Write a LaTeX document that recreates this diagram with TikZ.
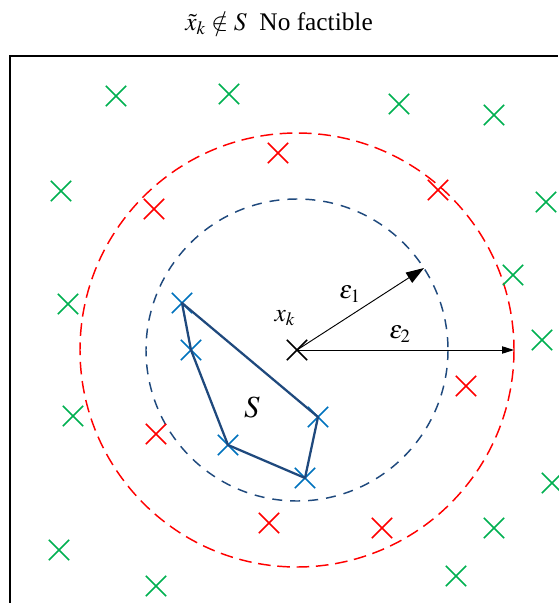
\documentclass[tikz,border=0pt]{standalone}
\usepackage{mathptmx}
\usepackage[no-math]{fontspec}
\setmainfont{Liberation Serif}
\usetikzlibrary{
  arrows.meta,
  shapes.misc
}
\definecolor{ptgreen}{RGB}{0,176,80}
\definecolor{ptred}{RGB}{255,0,0}
\definecolor{ptblue}{RGB}{0,114,189}
\definecolor{setnavy}{RGB}{31,73,125}
\tikzset{
  pt mark/.style={
    draw, cross out, minimum size=14pt, inner sep=0pt,
    line width=1.2pt
  },
  radius line/.style={
    dashed, line width=1.1pt
  },
  eps arrow/.style={
    line width=0.7pt, draw=black
  },
  lbl/.style={
    font=\fontsize{19}{22}\selectfont, inner sep=0pt
  },
}

\begin{document}
\begin{tikzpicture}[x=0.75pt, y=-0.75pt]

  % page box
  \useasboundingbox (0,0) rectangle (558,603);

  % title
  \node[lbl] (title) at (279,23) {$\tilde{x}_k \notin S$\ \ No factible};

  % frame (cut at right and bottom)
  \draw[line width=1.5pt] (9.5,603) |- (558,55.5);

  % centre point
  \node[pt mark, draw=black] (xk) at (297,350) {};
  \node[lbl] (xklbl) at (285,318) {$x_k$};

  % neighbourhoods
  \draw[radius line, draw=setnavy, dash pattern=on 7.5pt off 6pt]
    (xk.center) circle[radius=151];
  \draw[radius line, draw=ptred, dash pattern=on 9.5pt off 5pt]
    (xk.center) circle[radius=217];

  % radii
  \coordinate (e1) at (424,268);
  \coordinate (e2) at (514,350);
  \draw[eps arrow, -{Triangle[length=13.5pt, width=9pt]}] (xk.center) -- (e1);
  \draw[eps arrow, -{Triangle[length=9pt, width=5.5pt]}] (xk.center) -- (e2);
  \node[lbl] (eps1) at (350,294) {$\varepsilon_1$};
  \node[lbl] (eps2) at (400,334) {$\varepsilon_2$};

  % feasible set S
  \foreach \n/\p in {1/{182,303}, 2/{191,350}, 3/{228,445}, 4/{305,478}, 5/{318,417}}
    \node[pt mark, draw=ptblue] (s\n) at (\p) {};
  \draw[setnavy, line width=1.7pt, line join=round]
    (s1.center) -- (s2.center) -- (s3.center) -- (s4.center) -- (s5.center) -- cycle;
  \node[lbl, font=\fontsize{23}{26}\selectfont] (slbl) at (252,407) {$S$};

  % red points
  \foreach \n/\p in {1/{278,153}, 2/{154,209}, 3/{438,190}, 4/{466,386},
                     5/{156,434}, 6/{269,523}, 7/{382,528}}
    \node[pt mark, draw=ptred] (r\n) at (\p) {};

  % green points
  \foreach \n/\p in {1/{116,96}, 2/{229,94}, 3/{399,104}, 4/{494,115},
                     5/{61,191}, 6/{546,202}, 7/{513,275}, 8/{68,304},
                     9/{542,340}, 10/{73,416}, 11/{552,483}, 12/{494,528},
                     13/{59,550}, 14/{156,586}, 15/{456,576}}
    \node[pt mark, draw=ptgreen] (g\n) at (\p) {};

\end{tikzpicture}
\end{document}
